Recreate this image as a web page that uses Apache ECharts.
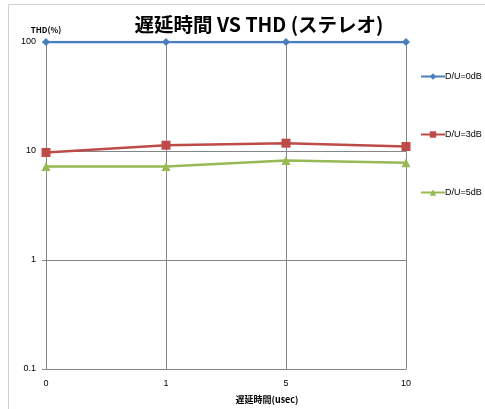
<!DOCTYPE html>
<html><head><meta charset="utf-8">
<script src="https://cdn.jsdelivr.net/npm/echarts@6/dist/echarts.min.js"></script>
<style>html,body{margin:0;padding:0;background:#fff}#c{width:485px;height:409px}</style>
</head><body><div id="c"></div>
<script>
const categories = ['0', '1', '5', '10'];
const du0 = [100, 100, 100, 100];
const du3 = [9.7, 11.3, 11.8, 11.0];
const du5 = [7.2, 7.2, 8.2, 7.8];
const seriesNames = ['D/U=0dB', 'D/U=3dB', 'D/U=5dB'];

const chart = echarts.init(document.getElementById('c'));
const font = '"Noto Sans CJK JP", "DejaVu Sans", sans-serif';
chart.setOption({
  animation: false,
  backgroundColor: '#fff',
  graphic: [{type: 'rect', shape: {x: 8.5, y: 4.5, width: 500, height: 420}, style: {fill: 'none', stroke: '#d0d0d0', lineWidth: 1}}],
  title: {text: '遅延時間 VS THD (ステレオ)', left: 254, top: 10, textAlign: 'center',
    textStyle: {fontFamily: font, fontSize: 19.5, fontWeight: 'bold', color: '#000'}},
  legend: {orient: 'vertical', left: 415, top: 67, itemGap: 49, itemWidth: 24, itemHeight: 8,
    textStyle: {fontFamily: 'Liberation Sans, sans-serif', fontSize: 9, color: '#000', padding: [0,0,0,-5]},
    data: seriesNames},
  grid: {left: 46, right: 79, top: 42, bottom: 39},
  xAxis: {type: 'category', data: categories, boundaryGap: false,
    name: '遅延時間(usec)', nameLocation: 'middle', nameGap: 26,
    nameTextStyle: {fontFamily: font, fontSize: 9, fontWeight: 'bold', color: '#000', padding: [0,0,0,82]},
    axisLine: {lineStyle: {color: '#868686'}}, axisTick: {show: false},
    axisLabel: {fontFamily: 'Liberation Sans, sans-serif', fontSize: 9, color: '#000', margin: 10},
    splitLine: {show: true, lineStyle: {color: '#868686'}}},
  yAxis: {type: 'log', logBase: 10, min: 0.1, max: 100,
    name: 'THD(%)', nameLocation: 'end', nameGap: 8,
    nameTextStyle: {fontFamily: font, fontSize: 8, fontWeight: 'bold', color: '#000', align: 'center'},
    axisLine: {show: true, lineStyle: {color: '#868686'}}, axisTick: {show: true, length: 4, inside: false, lineStyle: {color: '#868686'}},
    axisLabel: {fontFamily: 'Liberation Sans, sans-serif', fontSize: 9, color: '#000', margin: 10,
      formatter: v => String(+v.toPrecision(3))},
    splitLine: {show: true, lineStyle: {color: '#868686'}}},
  series: [
    {name: seriesNames[0], type: 'line', data: du0, symbol: 'diamond', symbolSize: 8,
      itemStyle: {color: '#4a7ebb'}, lineStyle: {width: 2.5, color: '#4a7ebb'}},
    {name: seriesNames[1], type: 'line', data: du3, symbol: 'rect', symbolSize: 9,
      itemStyle: {color: '#be4b48'}, lineStyle: {width: 2.5, color: '#be4b48'}},
    {name: seriesNames[2], type: 'line', data: du5, symbol: 'triangle', symbolSize: 9,
      itemStyle: {color: '#98b954'}, lineStyle: {width: 2.5, color: '#98b954'}}
  ]
});
</script></body></html>
